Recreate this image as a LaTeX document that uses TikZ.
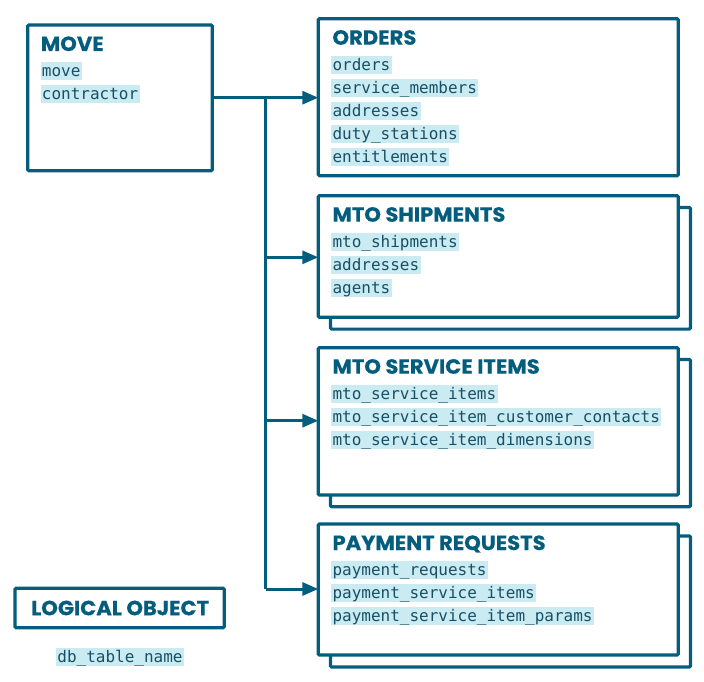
\documentclass[tikz,border=0pt]{standalone}
\usepackage{fontspec}
\usetikzlibrary{arrows.meta,calc}
\newfontfamily\titlefont{Poppins}[FakeStretch=1.03,BoldFeatures={FakeBold=0.4}]
\newfontfamily\monofont{DejaVu Sans Mono}
\definecolor{teal}{RGB}{4,93,124}
\definecolor{monocol}{RGB}{22,80,102}
\definecolor{hlcol}{RGB}{203,235,242}
\tikzset{
  box/.style={draw=teal, line width=3.2pt, rounded corners=1.2pt, fill=white, inner sep=0pt, outer sep=0pt, anchor=north west},
  hl/.style={fill=hlcol, text=monocol, font=\monofont\fontsize{16}{16}\selectfont, inner xsep=1.3pt, inner ysep=0pt, text height=14.5pt, text depth=3.5pt, anchor=west},
  ttl/.style={font=\titlefont\bfseries\fontsize{20.5}{20.5}\selectfont, text=teal, anchor=base west, inner sep=0pt},
  conn/.style={draw=teal, line width=3pt},
  arr/.style={conn, -{Triangle[length=16pt,width=13pt]}}
}
\begin{document}
\begin{tikzpicture}[x=1pt,y=-1pt]
\useasboundingbox (0,0) rectangle (704,682);
% back boxes
\node[box, minimum width=360pt, minimum height=121.6pt] (shipback) at (330.5,207.5) {};
\node[box, minimum width=360pt, minimum height=147.3pt] (servback) at (330.5,359.5) {};
\node[box, minimum width=360pt, minimum height=131pt] (payback) at (330.5,536) {};
% front boxes
\node[box, minimum width=184.6pt, minimum height=145.8pt] (move) at (27.7,25) {};
\node[box, minimum width=360pt, minimum height=157pt] (orders) at (318.3,18.7) {};
\node[box, minimum width=360pt, minimum height=121.6pt] (ship) at (318.3,195.7) {};
\node[box, minimum width=360pt, minimum height=147.3pt] (serv) at (318.3,347.7) {};
\node[box, minimum width=360pt, minimum height=131pt] (pay) at (318.3,524) {};
\node[box, minimum width=209.3pt, minimum height=39.4pt] (logical) at (15,588.3) {};
% titles
\node[ttl] (tmove) at ($(move.north west)+(13,26)$) {MOVE};
\node[ttl] (torders) at ($(orders.north west)+(14,26)$) {ORDERS};
\node[ttl] (tship) at ($(ship.north west)+(14,26)$) {MTO SHIPMENTS};
\node[ttl] (tserv) at ($(serv.north west)+(14,26)$) {MTO SERVICE ITEMS};
\node[ttl] (tpay) at ($(pay.north west)+(14,26)$) {PAYMENT REQUESTS};
\node[ttl, anchor=center] (tlogical) at ($(logical.center)+(0.5,0)$) {LOGICAL OBJECT};
% table names
\node[hl] (move1) at ($(move.north west)+(12.7,46)$) {move};
\node[hl] (move2) at ($(move.north west)+(12.7,69)$) {contractor};
\node[hl] (ord1) at ($(orders.north west)+(12.7,46.5)$) {orders};
\node[hl] (ord2) at ($(orders.north west)+(12.7,69.5)$) {service\_members};
\node[hl] (ord3) at ($(orders.north west)+(12.7,92.5)$) {addresses};
\node[hl] (ord4) at ($(orders.north west)+(12.7,115.5)$) {duty\_stations};
\node[hl] (ord5) at ($(orders.north west)+(12.7,138.5)$) {entitlements};
\node[hl] (ship1) at ($(ship.north west)+(12.7,46)$) {mto\_shipments};
\node[hl] (ship2) at ($(ship.north west)+(12.7,69)$) {addresses};
\node[hl] (ship3) at ($(ship.north west)+(12.7,92)$) {agents};
\node[hl] (serv1) at ($(serv.north west)+(12.7,46)$) {mto\_service\_items};
\node[hl] (serv2) at ($(serv.north west)+(12.7,69)$) {mto\_service\_item\_customer\_contacts};
\node[hl] (serv3) at ($(serv.north west)+(12.7,92)$) {mto\_service\_item\_dimensions};
\node[hl] (pay1) at ($(pay.north west)+(12.7,46)$) {payment\_requests};
\node[hl] (pay2) at ($(pay.north west)+(12.7,69)$) {payment\_service\_items};
\node[hl] (pay3) at ($(pay.north west)+(12.7,92)$) {payment\_service\_item\_params};
\node[hl, anchor=center] (dbname) at (120,656.5) {db\_table\_name};
% connectors
\coordinate (j0) at (265.7,97.7);
\coordinate (j1) at (265.7,257.3);
\coordinate (j2) at (265.7,420.7);
\coordinate (j3) at (265.7,589);
\draw[conn] (j0) -- (j3);
\draw[arr] (move.east |- j0) -- (orders.west |- j0);
\draw[arr] (j1) -- (ship.west |- j1);
\draw[arr] (j2) -- (serv.west |- j2);
\draw[arr] (j3) -- (pay.west |- j3);
\end{tikzpicture}
\end{document}
